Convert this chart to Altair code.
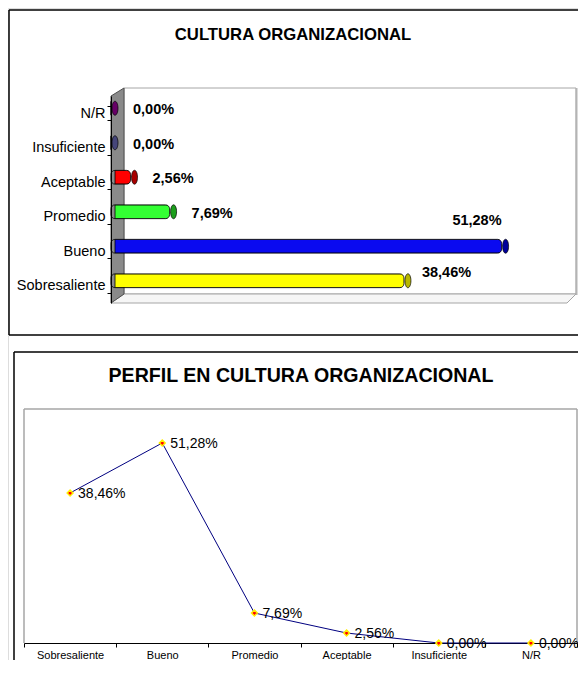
import altair as alt
import pandas as pd

# ---- data ----
categories = ["Sobresaliente", "Bueno", "Promedio", "Aceptable", "Insuficiente", "N/R"]
percentages = [38.46, 51.28, 7.69, 2.56, 0.00, 0.00]
bar_order = ["N/R", "Insuficiente", "Aceptable", "Promedio", "Bueno", "Sobresaliente"]
bar_colors = ["#ffff00", "#0a0af0", "#33ff33", "#ff0000", "#6b6ba8", "#990099"]
cap_colors = ["#b8b800", "#00009a", "#1c9e1c", "#a80000", "#46467a", "#660066"]
title_top = "CULTURA ORGANIZACIONAL"
title_bottom = "PERFIL EN CULTURA ORGANIZACIONAL"

labels = [f"{v:.2f}".replace(".", ",") + "%" for v in percentages]
df = pd.DataFrame({"cat": categories, "pct": percentages, "label": labels,
                   "idx": list(range(len(categories)))})

FONT = "Liberation Sans"
W, H = 570, 652
one = alt.Data(values=[{"k": 1}])


def vrule(x, y, y2, color="black", sw=1.5):
    return alt.Chart(one).mark_rule(color=color, strokeWidth=sw).encode(
        x=alt.value(x), y=alt.value(y), y2=alt.value(y2))


def hrule(x, x2, y, color="black", sw=1.5):
    return alt.Chart(one).mark_rule(color=color, strokeWidth=sw).encode(
        x=alt.value(x), x2=alt.value(x2), y=alt.value(y))


def title(text, x, y, size):
    return alt.Chart(one).mark_text(text=text, font=FONT, fontSize=size, fontWeight="bold",
                                    align="center", baseline="middle", color="black").encode(
        x=alt.value(x), y=alt.value(y))


# ---- top panel (3D-like horizontal bars) ----
xs_top = alt.Scale(domain=[0, 60], range=[103, 560], nice=False, zero=True)
ys_top = alt.Scale(domain=bar_order, range=[88, 295], paddingInner=0.6, paddingOuter=0.3)

back_wall = alt.Chart(one).mark_rect(fill="white", stroke="#a6a6a6", strokeWidth=1).encode(
    x=alt.value(116), x2=alt.value(568), y=alt.value(80), y2=alt.value(286))
back_edge = vrule(568.5, 80, 287, color="#b4b4b4", sw=2)
floor = alt.Chart(one).mark_point(shape="M0,0L13,-9L465,-9L456,0Z", size=4, filled=True,
                                  fill="#f6f6f6", stroke="#a6a6a6", strokeWidth=1, opacity=1).encode(
    x=alt.value(103), y=alt.value(295))
side_wall = alt.Chart(one).mark_point(shape="M0,0L0,-207L13,-215L13,-9Z", size=4, filled=True,
                                      fill="#8a8a8a", stroke="#505050", strokeWidth=1, opacity=1).encode(
    x=alt.value(103), y=alt.value(295))

bars = alt.Chart(df).mark_bar(cornerRadius=4, stroke="black", strokeWidth=0.8,
                              xOffset=4, yOffset=-5).encode(
    x=alt.X("pct:Q", scale=xs_top, axis=None),
    y=alt.Y("cat:N", scale=ys_top, sort=bar_order,
            axis=alt.Axis(orient="left", offset=-103, domain=True, domainColor="black",
                          ticks=True, tickSize=4, tickColor="black", tickBand="extent",
                          labelFont=FONT, labelFontSize=14.5, labelColor="black",
                          labelPadding=2, grid=False, title=None, zindex=1)),
    color=alt.Color("cat:N", scale=alt.Scale(domain=categories, range=bar_colors), legend=None),
)

ELLIPSE = "M0,-7A3,7,0,1,1,0,7A3,7,0,1,1,0,-7Z"
caps = alt.Chart(df).mark_point(shape=ELLIPSE, size=4, filled=True, stroke="black",
                                strokeWidth=0.7, opacity=1, xOffset=4, yOffset=-5).encode(
    x=alt.X("pct:Q", scale=xs_top, axis=None),
    y=alt.Y("cat:N", scale=ys_top, sort=bar_order, axis=None),
    fill=alt.Fill("cat:N", scale=alt.Scale(domain=categories, range=cap_colors), legend=None),
)


def bar_labels(cats, align, dx, dy):
    return alt.Chart(df).transform_filter(
        alt.FieldOneOfPredicate(field="cat", oneOf=cats)
    ).mark_text(font=FONT, fontSize=14.5, fontWeight="bold", align=align, baseline="middle",
                dx=dx, dy=dy, color="black").encode(
        x=alt.X("pct:Q", scale=xs_top, axis=None),
        y=alt.Y("cat:N", scale=ys_top, sort=bar_order, axis=None),
        text="label:N",
    )


lab_small = bar_labels(["N/R", "Insuficiente", "Aceptable", "Promedio"], "left", 22, -3)
lab_sob = bar_labels(["Sobresaliente"], "left", 18, -13)
lab_bue = bar_labels(["Bueno"], "right", 0, -30)

# ---- bottom panel (line profile) ----
PLOT_BOTTOM = 635
PLOT_RIGHT = 569
xs_bot = alt.Scale(domain=categories, range=[16, PLOT_RIGHT], paddingInner=0, paddingOuter=0)
ys_bot = alt.Scale(domain=[0, 60], range=[PLOT_BOTTOM, 401], nice=False, zero=True)

line = alt.Chart(df).mark_line(color="#000080", strokeWidth=1).encode(
    x=alt.X("cat:N", scale=xs_bot, sort=categories,
            axis=alt.Axis(orient="bottom", offset=-(H - PLOT_BOTTOM), tickBand="extent",
                          tickSize=4, tickColor="black", domainColor="black",
                          labelFont=FONT, labelFontSize=11, labelColor="black",
                          labelPadding=2, labelAngle=0, grid=False, title=None)),
    y=alt.Y("pct:Q", scale=ys_bot, axis=None),
    order=alt.Order("idx:Q"),
)
points = alt.Chart(df).mark_point(shape="diamond", filled=True, fill="#ff0000", stroke="#ffee00",
                                  strokeWidth=1.5, size=34, opacity=1).encode(
    x=alt.X("cat:N", scale=xs_bot, sort=categories, axis=None),
    y=alt.Y("pct:Q", scale=ys_bot, axis=None),
)
point_labels = alt.Chart(df).mark_text(font=FONT, fontSize=14, align="left", baseline="middle",
                                       dx=8, dy=1, color="black").encode(
    x=alt.X("cat:N", scale=xs_bot, sort=categories, axis=None),
    y=alt.Y("pct:Q", scale=ys_bot, axis=None),
    text="label:N",
)

layers = [
    # top frame
    vrule(1, 2, 327), hrule(1, W, 2), hrule(1, W, 327),
    title(title_top, 285, 27, 16.7),
    back_wall, back_edge, floor, side_wall,
    bars, caps, lab_small, lab_sob, lab_bue,
    # bottom frame
    vrule(6, 344, H), hrule(6, W, 344),
    title(title_bottom, 293, 368, 19.6),
    hrule(16, PLOT_RIGHT, 401, color="#a6a6a6", sw=1.5),
    vrule(16, 401, PLOT_BOTTOM, color="#a6a6a6", sw=1.5),
    vrule(PLOT_RIGHT, 401, PLOT_BOTTOM, color="#a6a6a6", sw=1.5),
    line, points, point_labels,
]

chart = alt.layer(*layers).resolve_scale(
    x="independent", y="independent", color="independent", fill="independent"
).properties(
    width=W, height=H, padding=0,
    autosize=alt.AutoSizeParams(type="none"),
).configure_view(stroke="transparent").configure(background="white")

chart.save("out.html", embed_options={"renderer": "svg", "actions": False})
